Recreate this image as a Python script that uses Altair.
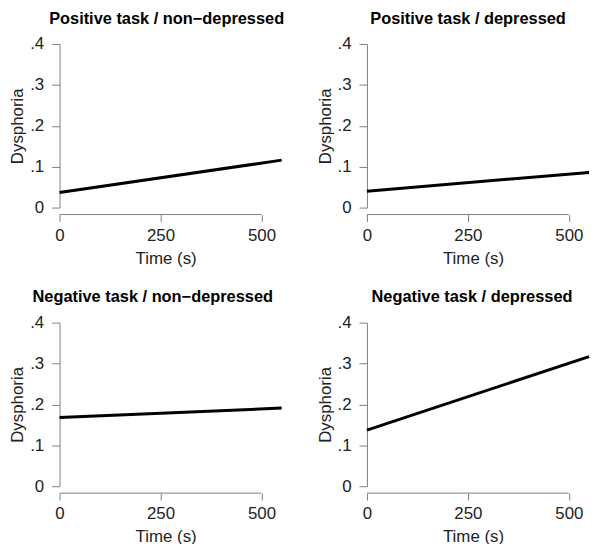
import altair as alt
import pandas as pd

panel_titles = [
    "Positive task / non\u2212depressed",
    "Positive task / depressed",
    "Negative task / non\u2212depressed",
    "Negative task / depressed",
]
time_s = [0, 550]
dysphoria = [
    [0.037, 0.116],
    [0.040, 0.086],
    [0.168, 0.191],
    [0.137, 0.317],
]
x_ticks = [0, 250, 500]
y_ticks = [0, 0.1, 0.2, 0.3, 0.4]

# style only: horizontal nudge of each panel title
title_dx = [-4, -10, -18, -6]

GREY = "#808080"
TXT = "#222222"
FONT = "Liberation Sans"
W, H = 224, 165
XOFF = 7

label_expr = "datum.value == 0 ? '0' : replace(format(datum.value, '.1f'), '0.', '.')"

axis_style = dict(
    grid=False, labelFont=FONT, titleFont=FONT, labelFontSize=17, titleFontSize=17,
    labelColor=TXT, titleColor=TXT, titleFontWeight="normal", tickColor=GREY,
    labelFlush=False,
)


def panel(i):
    df = pd.DataFrame({"time": time_s, "dysphoria": dysphoria[i]})
    line = alt.Chart(df).mark_line(color="black", strokeWidth=3).encode(
        x=alt.X(
            "time:Q",
            scale=alt.Scale(domain=[0, 550], nice=False, zero=False),
            axis=alt.Axis(
                values=x_ticks, domain=False, offset=XOFF, title="Time (s)",
                tickSize=7, labelPadding=6, titlePadding=7, titleX=107,
                **axis_style,
            ),
        ),
        y=alt.Y(
            "dysphoria:Q",
            scale=alt.Scale(domain=[0, 0.4], nice=False),
            axis=alt.Axis(
                values=y_ticks, labelExpr=label_expr, title="Dysphoria",
                domainColor=GREY, tickSize=8, labelPadding=8, titlePadding=3,
                **axis_style,
            ),
        ),
    )
    axis_df = pd.DataFrame({"x0": [x_ticks[0]], "x1": [x_ticks[-1]]})
    xline = alt.Chart(axis_df).mark_rule(color=GREY, strokeWidth=1).encode(
        x="x0:Q", x2="x1:Q", y=alt.value(H + XOFF)
    )
    return alt.layer(xline, line).properties(
        width=W, height=H,
        title=alt.TitleParams(panel_titles[i], fontSize=16.5, fontWeight="bold",
                              font=FONT, color="black", offset=8, dx=title_dx[i]),
    )


row1 = alt.hconcat(panel(0), panel(1), spacing=28)
row2 = alt.hconcat(panel(2), panel(3), spacing=28)
chart = alt.vconcat(row1, row2, spacing=23).configure_view(stroke=None).properties(
    background="white", padding={"top": 0, "left": 0, "right": -2, "bottom": -3}
)

chart.save("out.html", embed_options={"renderer": "svg", "actions": False})
